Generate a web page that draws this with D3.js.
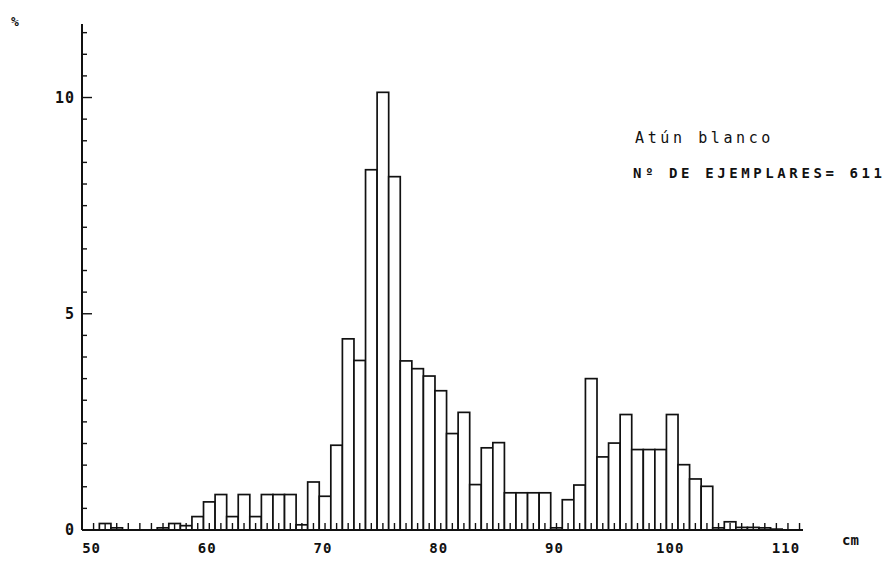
<!DOCTYPE html>
<html>
<head>
<meta charset="utf-8">
<script src="https://cdnjs.cloudflare.com/ajax/libs/d3/7.8.5/d3.min.js"></script>
<style>
  body { margin: 0; background: #fff; }
  text { font-family: "DejaVu Sans Mono", "Liberation Mono", monospace; fill: #111; }
  .bar { fill: #fff; stroke: #111; stroke-width: 1.7px; }
  .axis-line { stroke: #111; stroke-width: 2px; }
  .tick-mark { stroke: #111; stroke-width: 1.4px; }
</style>
</head>
<body>
<div id="histo"></div>
<script>
// talla (cm), una clase por centimetro
var tallas = [50, 51, 52, 53, 54, 55, 56, 57, 58, 59,
              60, 61, 62, 63, 64, 65, 66, 67, 68, 69,
              70, 71, 72, 73, 74, 75, 76, 77, 78, 79,
              80, 81, 82, 83, 84, 85, 86, 87, 88, 89,
              90, 91, 92, 93, 94, 95, 96, 97, 98, 99,
              100, 101, 102, 103, 104, 105, 106, 107, 108, 109, 110];

// porcentaje de ejemplares en cada clase
var porcentajes = [0, 0.15, 0.05, 0, 0, 0, 0.05, 0.15, 0.10, 0.31,
                   0.65, 0.82, 0.31, 0.82, 0.31, 0.82, 0.82, 0.82, 0.12, 1.11,
                   0.78, 1.96, 4.42, 3.92, 8.33, 10.12, 8.17, 3.91, 3.73, 3.56,
                   3.22, 2.23, 2.72, 1.05, 1.90, 2.02, 0.86, 0.86, 0.86, 0.86,
                   0.05, 0.70, 1.04, 3.50, 1.69, 2.01, 2.67, 1.86, 1.86, 1.86,
                   2.67, 1.51, 1.18, 1.01, 0.05, 0.19, 0.06, 0.06, 0.05, 0.02, 0];

var xLabels = [50, 60, 70, 80, 90, 100, 110];
var yLabels = [0, 5, 10];
var especie = "Atún blanco";
var ejemplares = "Nº DE EJEMPLARES= 611";

function histograma() {
	var fullwidth = 887;
	var fullheight = 562;

	var svg = d3.select("#histo")
				.append("svg")
				.attr("width", fullwidth)
				.attr("height", fullheight);

	var xScale = d3.scaleLinear()
					.domain([49, 111.3])
					.range([82, 803]);

	var yScale = d3.scaleLinear()
					.domain([0, 11.7])
					.range([530, 24]);

	var data = tallas.map(function(t, i) {
		return { talla: t, pct: porcentajes[i] };
	});

	// barras
	svg.selectAll("rect.bar")
		.data(data.filter(function(d) { return d.pct > 0; }))
		.enter()
		.append("rect")
		.attr("class", "bar")
		.attr("x", function(d) { return xScale(d.talla - 0.5); })
		.attr("width", function(d) { return xScale(d.talla + 0.5) - xScale(d.talla - 0.5); })
		.attr("y", function(d) { return yScale(d.pct); })
		.attr("height", function(d) { return yScale(0) - yScale(d.pct); });

	// ejes a mano, ticks hacia dentro como en el plotter
	var x0 = xScale.range()[0];
	var y0 = yScale(0);

	svg.append("line")
		.attr("class", "axis-line")
		.attr("x1", x0).attr("x2", x0)
		.attr("y1", y0).attr("y2", yScale.range()[1]);

	svg.append("line")
		.attr("class", "axis-line")
		.attr("x1", x0).attr("x2", xScale.range()[1])
		.attr("y1", y0).attr("y2", y0);

	var yTicks = d3.range(0.5, 11.6, 0.5);
	svg.selectAll("line.ytick")
		.data(yTicks)
		.enter()
		.append("line")
		.attr("class", "tick-mark")
		.attr("x1", x0)
		.attr("x2", function(d) { return x0 + (d % 5 === 0 ? 10 : 5); })
		.attr("y1", function(d) { return yScale(d); })
		.attr("y2", function(d) { return yScale(d); });

	var xTicks = d3.range(50, 112, 1);
	svg.selectAll("line.xtick")
		.data(xTicks)
		.enter()
		.append("line")
		.attr("class", "tick-mark")
		.attr("x1", function(d) { return xScale(d); })
		.attr("x2", function(d) { return xScale(d); })
		.attr("y1", y0)
		.attr("y2", y0 - 7);

	svg.selectAll("text.xlabel")
		.data(xLabels)
		.enter()
		.append("text")
		.attr("class", "xlabel")
		.attr("x", function(d) { return xScale(d) - 2; })
		.attr("y", 553)
		.attr("text-anchor", "middle")
		.style("font-size", "14px")
		.style("font-weight", "bold")
		.style("letter-spacing", "1px")
		.text(function(d) { return d; });

	svg.selectAll("text.ylabel")
		.data(yLabels)
		.enter()
		.append("text")
		.attr("class", "ylabel")
		.attr("x", 75)
		.attr("y", function(d) { return yScale(d) + 5; })
		.attr("text-anchor", "end")
		.style("font-size", "15px")
		.style("font-weight", "bold")
		.style("letter-spacing", "1px")
		.text(function(d) { return d; });

	svg.append("text")
		.attr("x", 11)
		.attr("y", 26)
		.style("font-size", "13px")
		.style("font-weight", "bold")
		.text("%");

	svg.append("text")
		.attr("x", 842)
		.attr("y", 545)
		.style("font-size", "14px")
		.style("font-weight", "bold")
		.text("cm");

	// leyenda
	svg.append("text")
		.attr("x", 635)
		.attr("y", 143)
		.style("font-size", "15px")
		.style("letter-spacing", "3.6px")
		.text(especie);

	svg.append("text")
		.attr("x", 633)
		.attr("y", 178)
		.style("font-size", "14px")
		.style("font-weight", "bold")
		.style("letter-spacing", "3.6px")
		.text(ejemplares);
}
histograma();
</script>
</body>
</html>
